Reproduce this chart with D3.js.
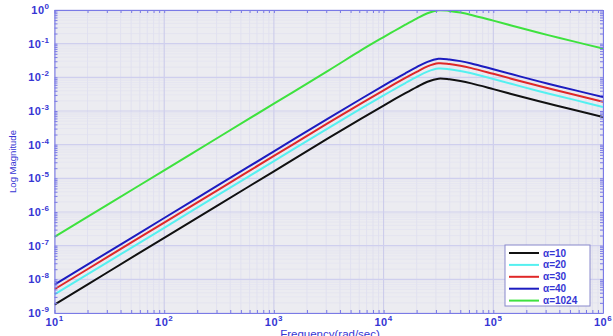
<!DOCTYPE html>
<html>
<head>
<meta charset="utf-8">
<script src="https://cdn.jsdelivr.net/npm/d3@7"></script>
<style>
  body { margin: 0; background: #fff; }
  svg { display: block; font-family: "Liberation Sans", Arial, sans-serif; }
</style>
</head>
<body>
<div id="chart"></div>
<script>
// frequency samples (rad/sec)
const freqs = [10, 31.6, 100, 316, 1000, 3162, 6310, 1e4, 1.26e4, 1.58e4, 2e4, 2.51e4,
  3.16e4, 3.98e4, 5.01e4, 6.31e4, 1e5, 1.78e5, 3.16e5, 5.62e5, 1e6];

// magnitudes, one array per alpha
const alpha10 = [1.78e-9, 1.74e-8, 1.70e-7, 1.66e-6, 1.62e-5, 1.58e-4, 6.03e-4, 1.45e-3, 2.24e-3,
  3.39e-3, 5.13e-3, 7.41e-3, 9.12e-3, 8.71e-3, 7.76e-3, 6.61e-3, 4.47e-3, 2.69e-3, 1.66e-3, 1.05e-3, 6.61e-4];
const alpha20 = [3.56e-9, 3.48e-8, 3.40e-7, 3.32e-6, 3.24e-5, 3.16e-4, 1.21e-3, 2.90e-3, 4.48e-3,
  6.78e-3, 1.03e-2, 1.48e-2, 1.82e-2, 1.74e-2, 1.55e-2, 1.32e-2, 8.94e-3, 5.38e-3, 3.32e-3, 2.10e-3, 1.32e-3];
const alpha30 = [5.07e-9, 4.96e-8, 4.85e-7, 4.73e-6, 4.62e-5, 4.50e-4, 1.72e-3, 4.13e-3, 6.38e-3,
  9.66e-3, 1.46e-2, 2.11e-2, 2.60e-2, 2.48e-2, 2.21e-2, 1.88e-2, 1.27e-2, 7.67e-3, 4.73e-3, 2.99e-3, 1.88e-3];
const alpha40 = [6.94e-9, 6.79e-8, 6.63e-7, 6.47e-6, 6.32e-5, 6.16e-4, 2.35e-3, 5.66e-3, 8.74e-3,
  1.32e-2, 2.00e-2, 2.89e-2, 3.56e-2, 3.40e-2, 3.03e-2, 2.58e-2, 1.74e-2, 1.05e-2, 6.47e-3, 4.10e-3, 2.58e-3];
const alpha1024 = [1.82e-7, 1.77e-6, 1.73e-5, 1.69e-4, 1.65e-3, 1.61e-2, 6.51e-2, 0.157, 0.242,
  0.366, 0.554, 0.800, 0.985, 0.941, 0.838, 0.714, 0.483, 0.291, 0.179, 0.113, 0.0714];

const seriesNames = ["10", "20", "30", "40", "1024"];
const seriesColors = ["#111111", "#55f0f0", "#e02828", "#1c1cc0", "#3ee23e"];
const seriesValues = [alpha10, alpha20, alpha30, alpha40, alpha1024];

const xTickExp = [1, 2, 3, 4, 5, 6];
const yTickExp = [0, -1, -2, -3, -4, -5, -6, -7, -8, -9];

const W = 613, H = 336;
const m = { left: 54.5, right: 10, top: 10, bottom: 23 };

const svg = d3.select("#chart").append("svg")
  .attr("width", W).attr("height", H);

const x = d3.scaleLog().domain([10, 1e6]).range([m.left, W - m.right]);
const y = d3.scaleLog().domain([1e-9, 1]).range([H - m.bottom, m.top]);

const axisColor = "#7a7ae6";
const labelColor = "#3636d4";

// plot background
svg.append("rect")
  .attr("x", x.range()[0]).attr("y", y.range()[1])
  .attr("width", x.range()[1] - x.range()[0])
  .attr("height", y.range()[0] - y.range()[1])
  .attr("fill", "#ececf1");

// minor + major grid
let minorX = [], minorY = [];
for (let e = 1; e < 6; e++) for (let k = 2; k < 10; k++) minorX.push(k * Math.pow(10, e));
for (let e = -9; e < 0; e++) for (let k = 2; k < 10; k++) minorY.push(k * Math.pow(10, e));

let grid = svg.append("g");
grid.selectAll(".mx").data(minorX).join("line")
  .attr("x1", d => x(d)).attr("x2", d => x(d))
  .attr("y1", y.range()[1]).attr("y2", y.range()[0])
  .attr("stroke", "#dcdcef").attr("stroke-width", 0.7);
grid.selectAll(".my").data(minorY).join("line")
  .attr("y1", d => y(d)).attr("y2", d => y(d))
  .attr("x1", x.range()[0]).attr("x2", x.range()[1])
  .attr("stroke", "#e0e0f0").attr("stroke-width", 0.6);
grid.selectAll(".Mx").data(xTickExp).join("line")
  .attr("x1", d => x(Math.pow(10, d))).attr("x2", d => x(Math.pow(10, d)))
  .attr("y1", y.range()[1]).attr("y2", y.range()[0])
  .attr("stroke", "#c9c9ea").attr("stroke-width", 1);
grid.selectAll(".My").data(yTickExp).join("line")
  .attr("y1", d => y(Math.pow(10, d))).attr("y2", d => y(Math.pow(10, d)))
  .attr("x1", x.range()[0]).attr("x2", x.range()[1])
  .attr("stroke", "#cfcfee").attr("stroke-width", 1.2);

// curves
const line = d3.line()
  .x((d, i) => x(freqs[i]))
  .y(d => y(d))
  .curve(d3.curveCatmullRom.alpha(0.5));

svg.append("clipPath").attr("id", "clip").append("rect")
  .attr("x", x.range()[0]).attr("y", y.range()[1])
  .attr("width", x.range()[1] - x.range()[0])
  .attr("height", y.range()[0] - y.range()[1]);

svg.append("g").attr("clip-path", "url(#clip)")
  .selectAll("path").data(seriesValues).join("path")
  .attr("d", d => line(d))
  .attr("fill", "none")
  .attr("stroke", (d, i) => seriesColors[i])
  .attr("stroke-width", 2);

// box axes with ticks on all sides
const tickFmt = () => "";
const xTicks = minorX.concat(xTickExp.map(e => Math.pow(10, e)));
const yTicks = minorY.concat(yTickExp.map(e => Math.pow(10, e)));
svg.append("g").attr("transform", `translate(0,${y.range()[0]})`)
  .call(d3.axisBottom(x).tickValues(xTicks).tickFormat(tickFmt).tickSize(-3).tickSizeOuter(0));
svg.append("g").attr("transform", `translate(0,${y.range()[1]})`)
  .call(d3.axisTop(x).tickValues(xTicks).tickFormat(tickFmt).tickSize(-3).tickSizeOuter(0));
svg.append("g").attr("transform", `translate(${x.range()[0]},0)`)
  .call(d3.axisLeft(y).tickValues(yTicks).tickFormat(tickFmt).tickSize(-3).tickSizeOuter(0));
svg.append("g").attr("transform", `translate(${x.range()[1]},0)`)
  .call(d3.axisRight(y).tickValues(yTicks).tickFormat(tickFmt).tickSize(-3).tickSizeOuter(0));
svg.selectAll(".domain, .tick line").attr("stroke", axisColor);

// tick labels 10^n
const yLab = svg.append("g").selectAll("text").data(yTickExp).join("text")
  .attr("x", m.left - 5)
  .attr("y", d => y(Math.pow(10, d)) + 4)
  .attr("text-anchor", "end")
  .attr("fill", labelColor)
  .attr("font-size", 11)
  .attr("font-weight", "bold")
  .attr("letter-spacing", 0.5);
yLab.append("tspan").text("10");
yLab.append("tspan").attr("dy", -5).attr("font-size", 8).text(d => d);

const xLab = svg.append("g").selectAll("text").data(xTickExp).join("text")
  .attr("x", d => x(Math.pow(10, d)))
  .attr("y", y.range()[0] + 13)
  .attr("text-anchor", "middle")
  .attr("fill", labelColor)
  .attr("font-size", 11)
  .attr("font-weight", "bold")
  .attr("letter-spacing", 0.5);
xLab.append("tspan").text("10");
xLab.append("tspan").attr("dy", -5).attr("font-size", 8).text(d => d);

// axis titles
svg.append("text")
  .attr("transform", `translate(16,${(y.range()[0] + y.range()[1]) / 2}) rotate(-90)`)
  .attr("text-anchor", "middle")
  .attr("fill", labelColor)
  .attr("font-size", 9.5)
  .text("Log Magnitude");

svg.append("text")
  .attr("x", 330).attr("y", 338)
  .attr("text-anchor", "middle")
  .attr("fill", labelColor)
  .attr("font-size", 11.5)
  .text("Frequency(rad/sec)");

// legend
const lg = svg.append("g").attr("transform", "translate(505,245)");
lg.append("rect").attr("width", 85).attr("height", 61)
  .attr("fill", "#fff").attr("stroke", "#8888cc").attr("stroke-width", 1);
const rows = lg.selectAll("g").data(seriesNames).join("g")
  .attr("transform", (d, i) => `translate(0,${8 + i * 11.9})`);
rows.append("line").attr("x1", 4).attr("x2", 34)
  .attr("stroke", (d, i) => seriesColors[i]).attr("stroke-width", 2);
rows.append("text").attr("x", 38).attr("y", 3.5)
  .attr("fill", labelColor).attr("font-size", 10).attr("font-weight", "bold")
  .text(d => "\u03b1=" + d);
</script>
</body>
</html>
